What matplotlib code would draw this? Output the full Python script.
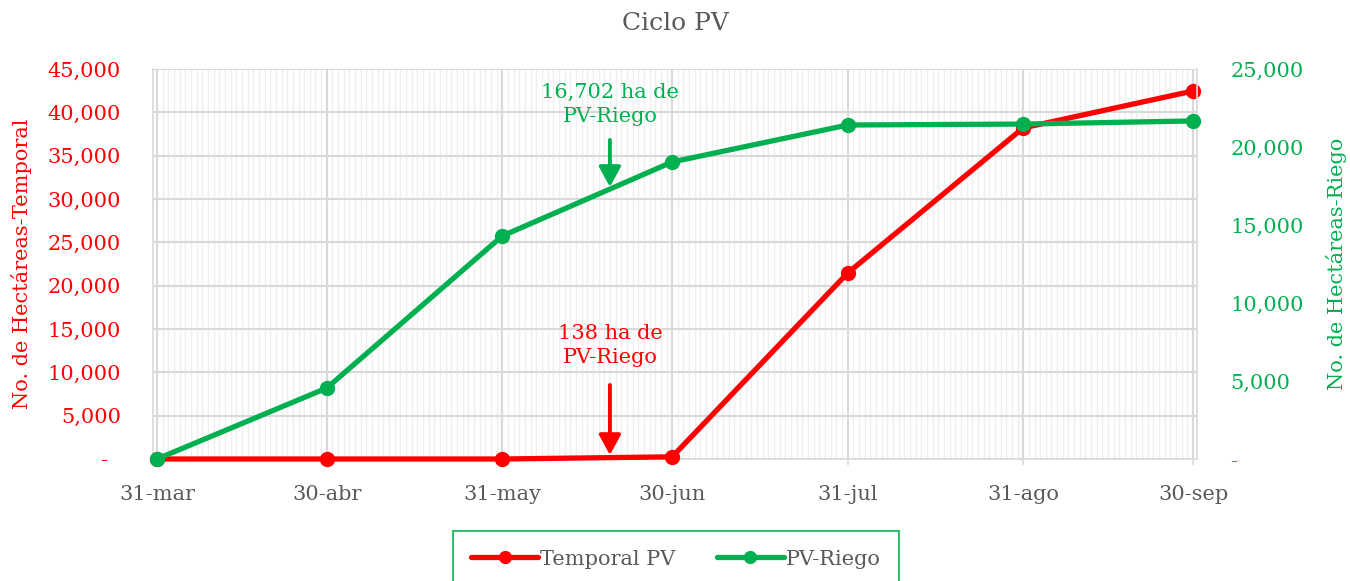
import datetime as dt
import matplotlib
matplotlib.use("Agg")
import matplotlib.pyplot as plt
import matplotlib.dates as mdates

# ---- data ----
dates = ["2023-03-31", "2023-04-30", "2023-05-31", "2023-06-30",
         "2023-07-31", "2023-08-31", "2023-09-30"]
date_labels = ["31-mar", "30-abr", "31-may", "30-jun", "31-jul", "31-ago", "30-sep"]
temporal = [0, 0, 0, 250, 21460, 38200, 42460]
riego = [0, 4550, 14300, 19040, 21410, 21470, 21670]

left_ticks = [0, 5000, 10000, 15000, 20000, 25000, 30000, 35000, 40000, 45000]
left_labels = ["-  ", "5,000", "10,000", "15,000", "20,000", "25,000",
               "30,000", "35,000", "40,000", "45,000"]
right_ticks = [0, 5000, 10000, 15000, 20000, 25000]
right_labels = ["-", "5,000", "10,000", "15,000", "20,000", "25,000"]

ann_date = "2023-06-19"
green_ann_text = "16,702 ha de\nPV-Riego"
green_ann_tip, green_ann_start, green_ann_text_y = 17440, 20450, 22720
red_ann_text = "138 ha de\nPV-Riego"
red_ann_tip, red_ann_start, red_ann_text_y = 460, 8540, 13100

RED = "#FF0000"
GREEN = "#00B050"
GRAY = "#595959"
GRID = "#D9D9D9"

plt.rcParams['font.family'] = ['DejaVu Serif']

x = [dt.datetime.strptime(d, "%Y-%m-%d") for d in dates]
xa = dt.datetime.strptime(ann_date, "%Y-%m-%d")

fig = plt.figure(figsize=(13.5, 5.81), dpi=100)
ax = fig.add_axes([153/1350, 1-459/581, (1197-153)/1350, (459-69)/581])
ax2 = ax.twinx()

ax.plot(x, temporal, color=RED, lw=3.8, marker='o', ms=10, solid_capstyle='round',
        label="Temporal PV", zorder=3, clip_on=False)
ax2.plot(x, riego, color=GREEN, lw=3.8, marker='o', ms=10, solid_capstyle='round',
         label="PV-Riego", zorder=3, clip_on=False)

ax.set_xlim(x[0] - dt.timedelta(days=0.7), x[-1] + dt.timedelta(days=0.7))
ax.set_ylim(0, 45000)
ax2.set_ylim(0, 25000)

ax.set_xticks(x)
ax.set_xticklabels(date_labels)
ax.xaxis.set_minor_locator(mdates.DayLocator())
ax.set_yticks(left_ticks)
ax.set_yticklabels(left_labels)
ax2.set_yticks(right_ticks)
ax2.set_yticklabels(right_labels)

ax.tick_params(axis='x', which='major', colors=GRID, labelcolor=GRAY, labelsize=15,
               length=4, width=1.2, pad=15)
ax.tick_params(axis='x', which='minor', length=0)
ax.tick_params(axis='y', length=0, labelcolor=RED, labelsize=15, pad=23)
ax2.tick_params(axis='y', length=0, labelcolor=GREEN, labelsize=15, pad=24)

ax.grid(True, axis='y', which='major', color=GRID, lw=1.5)
ax.grid(True, axis='x', which='major', color=GRID, lw=1.5)
ax.grid(True, axis='x', which='minor', color="#EFEFEF", lw=1.0)
ax.set_axisbelow(True)

for s in ax.spines.values():
    s.set_color(GRID)
    s.set_linewidth(1.2)
ax.spines['top'].set_visible(False)
ax.spines['right'].set_visible(False)
for name in ('top', 'bottom', 'left'):
    ax2.spines[name].set_visible(False)
ax2.spines['right'].set_color(GRID)
ax2.spines['right'].set_linewidth(1.2)

ax.set_ylabel("No. de Hectáreas-Temporal", color=RED, fontsize=15, labelpad=11)
ax2.set_ylabel("No. de Hectáreas-Riego", color=GREEN, fontsize=15, labelpad=16)
ax.set_title("Ciclo PV", color=GRAY, fontsize=18, pad=28)

# annotations
arrow_kw = dict(arrowstyle='-|>,head_length=0.55,head_width=0.3', lw=2.8,
                mutation_scale=22, shrinkA=0, shrinkB=0)
ax2.annotate("", xy=(xa, green_ann_tip), xytext=(xa, green_ann_start),
             arrowprops=dict(color=GREEN, **arrow_kw), zorder=4)
ax2.text(xa, green_ann_text_y, green_ann_text, color=GREEN, fontsize=15,
         ha='center', va='center', linespacing=1.35)
ax.annotate("", xy=(xa, red_ann_tip), xytext=(xa, red_ann_start),
            arrowprops=dict(color=RED, **arrow_kw), zorder=4)
ax.text(xa, red_ann_text_y, red_ann_text, color=RED, fontsize=15,
        ha='center', va='center', linespacing=1.35)

h1, l1 = ax.get_legend_handles_labels()
h2, l2 = ax2.get_legend_handles_labels()
leg = fig.legend(h1 + h2, l1 + l2, loc='upper center', bbox_to_anchor=(676/1350, 1-531/581),
                 ncol=2, frameon=True, fancybox=False, fontsize=15, labelcolor=GRAY,
                 handlelength=3.2, borderpad=0.9, columnspacing=2.0, handletextpad=0.1,
                 borderaxespad=0, markerscale=0.85)
leg.get_frame().set_edgecolor(GREEN)
leg.get_frame().set_linewidth(1.5)

fig.savefig("out.png", dpi=100)
